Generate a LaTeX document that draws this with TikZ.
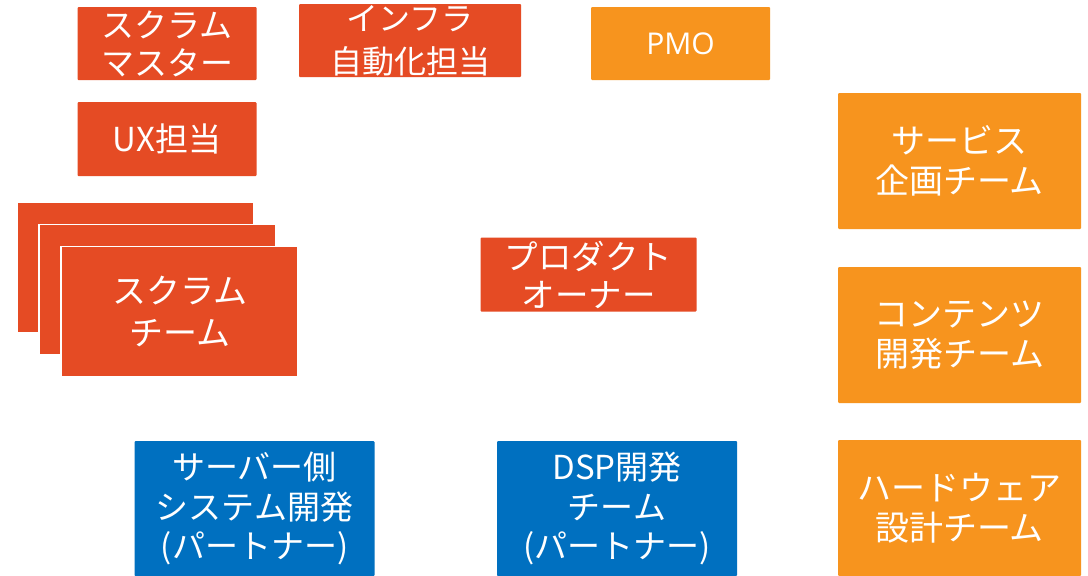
\documentclass[tikz,border=0pt]{standalone}
\usepackage{fontspec}
\setmainfont{Noto Sans CJK JP}
\newfontfamily\latinfont{Open Sans}
\definecolor{redbox}{HTML}{E54B24}
\definecolor{orangebox}{HTML}{F7941E}
\definecolor{bluebox}{HTML}{0070C0}
\tikzset{
  box/.style={rectangle, rounded corners=1pt, text=white, align=center, inner sep=0pt, anchor=center},
  redb/.style={box, fill=redbox},
  orangeb/.style={box, fill=orangebox},
  blueb/.style={box, fill=bluebox},
  stackb/.style={rectangle, fill=redbox, draw=white, line width=1.5pt, anchor=center, text=white, align=center, inner sep=0pt,
    minimum width=237pt, minimum height=130pt},
}
\begin{document}
\begin{tikzpicture}[x=1pt,y=-1pt]
\useasboundingbox (0,0) rectangle (1088,576);
\fill[white] (0,0) rectangle (1088,576);
% top row
\node[redb, minimum width=179pt, minimum height=73pt, font=\fontsize{33}{38}\selectfont] (sm) at (167,43.5) {スクラム\\マスター};
\node[redb, minimum width=222pt, minimum height=73pt, font=\fontsize{32}{43}\selectfont] (infra) at (410,40.5) {インフラ\\自動化担当};
\node[orangeb, minimum width=179pt, minimum height=73pt, font=\latinfont\fontsize{30}{36}\selectfont] (pmo) at (680.5,43.5) {PMO};
\node[redb, minimum width=179pt, minimum height=74pt, font=\fontsize{33}{38}\selectfont] (ux) at (167,139) {UX担当};
% stacked scrum teams
\node[stackb] (st3) at (135.5,267.5) {};
\node[stackb] (st2) at (157.5,289.5) {};
\node[stackb, font=\fontsize{34}{42}\selectfont] (st1) at (179.5,311.5) {スクラム\\チーム};
% product owner
\node[redb, minimum width=216pt, minimum height=74pt, font=\fontsize{33.5}{38}\selectfont] (po) at (588.5,274.5) {プロダクト\\オーナー};
% right column
\node[orangeb, minimum width=243pt, minimum height=136pt, font=\fontsize{34}{40}\selectfont] (svc) at (959.5,161) {サービス\\企画チーム};
\node[orangeb, minimum width=243pt, minimum height=136pt, font=\fontsize{34}{40}\selectfont] (cnt) at (959.5,335) {コンテンツ\\開発チーム};
\node[orangeb, minimum width=243pt, minimum height=136pt, font=\fontsize{34}{40}\selectfont] (hw) at (959.5,508) {ハードウェア\\設計チーム};
% bottom blue
\node[blueb, minimum width=240pt, minimum height=135pt, font=\fontsize{33}{39.5}\selectfont] (srv) at (254.5,508.5) {サーバー側\\システム開発\\(パートナー)};
\node[blueb, minimum width=240pt, minimum height=135pt, font=\fontsize{33}{39.5}\selectfont] (dsp) at (617,508.5) {DSP開発\\チーム\\(パートナー)};
\end{tikzpicture}
\end{document}
